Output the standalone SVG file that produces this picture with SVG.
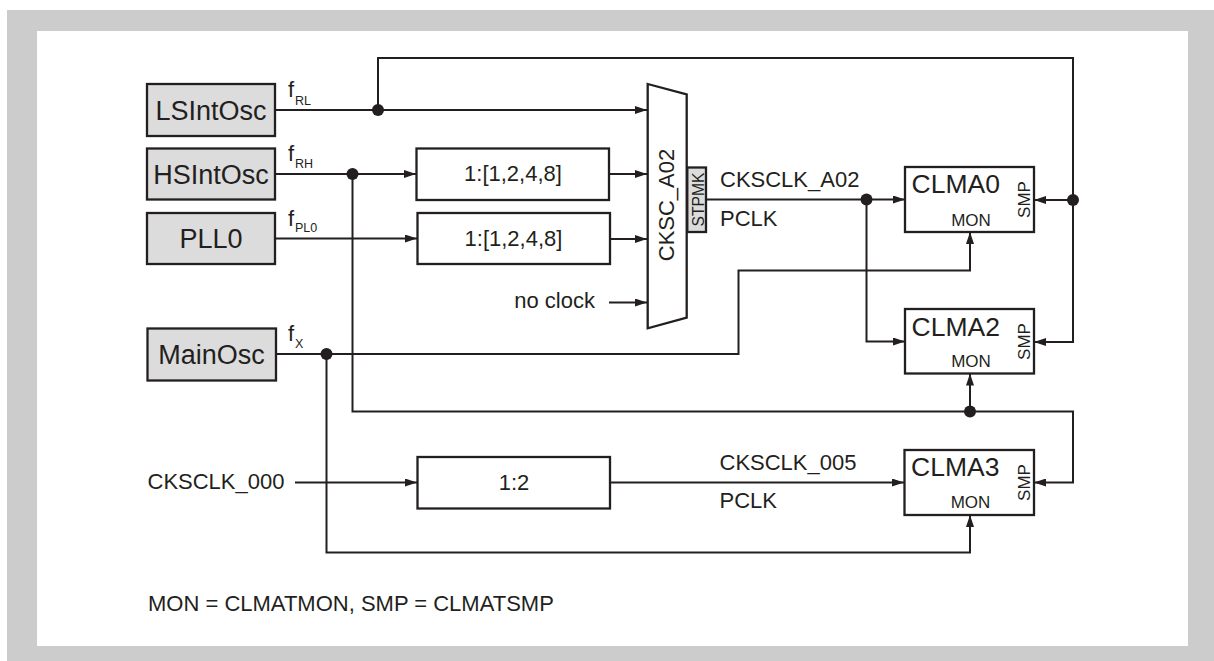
<svg xmlns="http://www.w3.org/2000/svg" width="1214" height="661" viewBox="0 0 1214 661">
<style>
text{font-family:"Liberation Sans",Arial,sans-serif;fill:#231f20}
.box{fill:#fff;stroke:#231f20;stroke-width:2.3}
.osc{fill:#dcdcdc;stroke:#231f20;stroke-width:2.3}
.w{fill:none;stroke:#231f20;stroke-width:2}
.dot{fill:#231f20}
.t22{font-size:22px}
.t26{font-size:27px}
.t25{font-size:26.5px}
.t17{font-size:17px}
.sub{font-size:12.5px}
</style>
<defs>
<marker id="arr" viewBox="0 0 12 8" markerWidth="12" markerHeight="8" refX="12" refY="4" orient="auto" markerUnits="userSpaceOnUse">
<path d="M0,0 L12,4 L0,8 z" fill="#231f20"/>
</marker>
</defs>
<rect x="7" y="10" width="1207" height="651" fill="#cccccc"/>
<rect x="37" y="31" width="1151" height="615" fill="#ffffff"/>

<g id="connectors">
<path class="w" d="M275,110 H647" marker-end="url(#arr)"/>
<path class="w" d="M378,110 V58 H1073 V342 H1034" marker-end="url(#arr)"/>
<path class="w" d="M1073,200 H1034" marker-end="url(#arr)"/>
<path class="w" d="M275,174 H416" marker-end="url(#arr)"/>
<path class="w" d="M352.5,174 V411.5 H1073 V482.5 H1034" marker-end="url(#arr)"/>
<path class="w" d="M970,411.5 V373.5" marker-end="url(#arr)"/>
<path class="w" d="M275,238.5 H417" marker-end="url(#arr)"/>
<path class="w" d="M609,174 H647" marker-end="url(#arr)"/>
<path class="w" d="M610,239 H647" marker-end="url(#arr)"/>
<path class="w" d="M609,302.5 H647" marker-end="url(#arr)"/>
<path class="w" d="M706,199.5 H905" marker-end="url(#arr)"/>
<path class="w" d="M866.5,199.5 V341.5 H905" marker-end="url(#arr)"/>
<path class="w" d="M276,354 H738.5 V270.5 H970 V232" marker-end="url(#arr)"/>
<path class="w" d="M326.5,354 V552.5 H970 V515" marker-end="url(#arr)"/>
<path class="w" d="M295,482.5 H417" marker-end="url(#arr)"/>
<path class="w" d="M610,482.5 H904" marker-end="url(#arr)"/>
<circle class="dot" cx="378" cy="110" r="6"/>
<circle class="dot" cx="352.5" cy="174" r="6"/>
<circle class="dot" cx="1073" cy="200" r="6"/>
<circle class="dot" cx="866.5" cy="199.5" r="6"/>
<circle class="dot" cx="326.5" cy="354" r="6"/>
<circle class="dot" cx="970" cy="411.5" r="6"/>
</g>

<g id="labels">
<text class="t22" x="288" y="96.7">f</text><text class="sub" x="295" y="105">RL</text>
<text class="t22" x="288" y="160.7">f</text><text class="sub" x="295" y="168.3">RH</text>
<text class="t22" x="288" y="225.5">f</text><text class="sub" x="295" y="232">PL0</text>
<text class="t22" x="288" y="340.7">f</text><text class="sub" x="295" y="348.3">X</text>
<text class="t22" x="595" y="308.3" text-anchor="end">no clock</text>
<text class="t22" x="720" y="186.7">CKSCLK_A02</text>
<text class="t22" x="720" y="225.7">PCLK</text>
<text class="t22" x="147.5" y="489.3">CKSCLK_000</text>
<text class="t22" x="719.5" y="470">CKSCLK_005</text>
<text class="t22" x="719.5" y="508">PCLK</text>
<text class="t22" x="148" y="610.7">MON = CLMATMON, SMP = CLMATSMP</text>
</g>

<g id="LSIntOsc">
<rect class="osc" x="147" y="84" width="128" height="52"/>
<text class="t26" x="211" y="119.5" text-anchor="middle">LSIntOsc</text>
</g>
<g id="HSIntOsc">
<rect class="osc" x="147" y="148.5" width="128" height="51"/>
<text class="t26" x="211" y="183.5" text-anchor="middle">HSIntOsc</text>
</g>
<g id="PLL0">
<rect class="osc" x="147" y="213" width="128" height="51"/>
<text class="t26" x="211" y="248" text-anchor="middle">PLL0</text>
</g>
<g id="MainOsc">
<rect class="osc" x="147.5" y="328.5" width="128.5" height="52"/>
<text class="t26" x="211.5" y="363.5" text-anchor="middle">MainOsc</text>
</g>
<g id="div1">
<rect class="box" x="416.5" y="148.5" width="192.5" height="51.5"/>
<text class="t22" x="513" y="181" text-anchor="middle">1:[1,2,4,8]</text>
</g>
<g id="div2">
<rect class="box" x="417.5" y="213" width="192.5" height="51"/>
<text class="t22" x="513.5" y="246" text-anchor="middle">1:[1,2,4,8]</text>
</g>
<g id="div3">
<rect class="box" x="417.5" y="457" width="192.5" height="51.5"/>
<text class="t22" x="514" y="490" text-anchor="middle">1:2</text>
</g>
<g id="CKSC_A02">
<polygon class="box" points="647.7,84 686.7,94.3 686.7,317.7 647.7,328.3"/>
<text class="t22" transform="translate(673.5,205) rotate(-90)" text-anchor="middle">CKSC_A02</text>
<rect class="osc" x="687.3" y="167.5" width="18.7" height="64.5" stroke-width="1.8"/>
<text class="t17" transform="translate(703.5,199.5) rotate(-90)" text-anchor="middle" textLength="54" lengthAdjust="spacingAndGlyphs">STPMK</text>
</g>
<g id="CLMA0">
<rect class="box" x="905" y="167" width="129" height="65"/>
<text class="t25" x="911.5" y="193.3">CLMA0</text>
<text class="t17" x="971" y="226" text-anchor="middle">MON</text>
<text class="t17" transform="translate(1029.5,199.5) rotate(-90)" text-anchor="middle">SMP</text>
</g>
<g id="CLMA2">
<rect class="box" x="905" y="309" width="129" height="64.5"/>
<text class="t25" x="911.5" y="335.5">CLMA2</text>
<text class="t17" x="971" y="367" text-anchor="middle">MON</text>
<text class="t17" transform="translate(1029.5,341.5) rotate(-90)" text-anchor="middle">SMP</text>
</g>
<g id="CLMA3">
<rect class="box" x="904.5" y="450" width="129.5" height="65"/>
<text class="t25" x="911" y="476">CLMA3</text>
<text class="t17" x="970.5" y="508.3" text-anchor="middle">MON</text>
<text class="t17" transform="translate(1029.5,482.5) rotate(-90)" text-anchor="middle">SMP</text>
</g>
</svg>
